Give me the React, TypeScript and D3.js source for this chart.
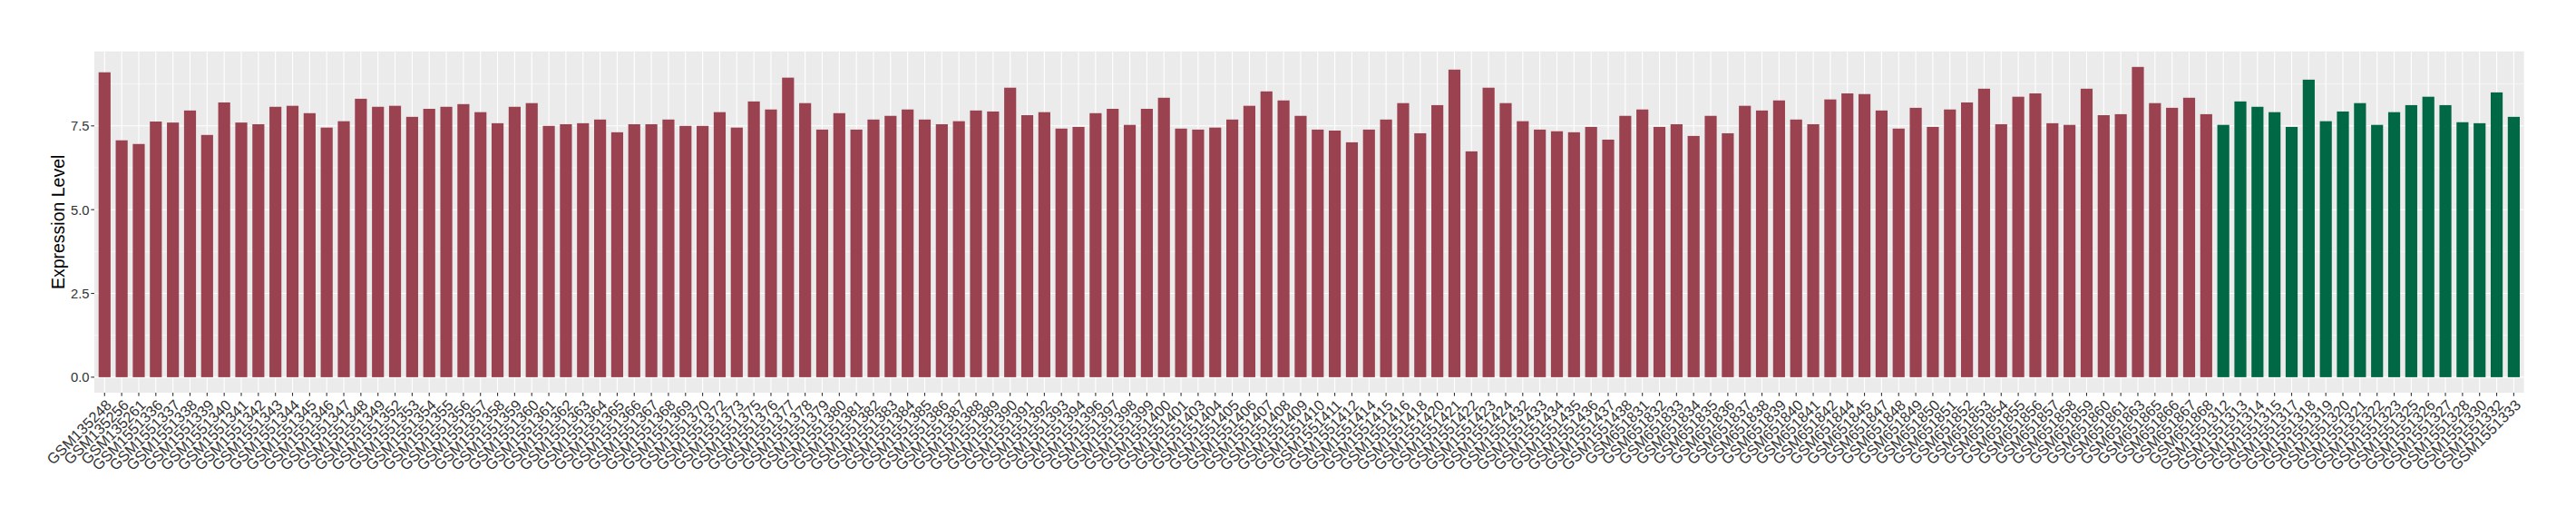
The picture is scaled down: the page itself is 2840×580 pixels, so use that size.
import React from "react";
import * as d3 from "d3";

// ---- data ----
const redSamples = [
  "GSM135248","GSM135256","GSM135261","GSM1551336","GSM1551337","GSM1551338","GSM1551339","GSM1551340",
  "GSM1551341","GSM1551342","GSM1551343","GSM1551344","GSM1551345","GSM1551346","GSM1551347","GSM1551348",
  "GSM1551349","GSM1551352","GSM1551353","GSM1551354","GSM1551355","GSM1551356","GSM1551357","GSM1551358",
  "GSM1551359","GSM1551360","GSM1551361","GSM1551362","GSM1551363","GSM1551364","GSM1551365","GSM1551366",
  "GSM1551367","GSM1551368","GSM1551369","GSM1551370","GSM1551372","GSM1551373","GSM1551375","GSM1551376",
  "GSM1551377","GSM1551378","GSM1551379","GSM1551380","GSM1551381","GSM1551382","GSM1551383","GSM1551384",
  "GSM1551385","GSM1551386","GSM1551387","GSM1551388","GSM1551389","GSM1551390","GSM1551391","GSM1551392",
  "GSM1551393","GSM1551394","GSM1551396","GSM1551397","GSM1551398","GSM1551399","GSM1551400","GSM1551401",
  "GSM1551403","GSM1551404","GSM1551405","GSM1551406","GSM1551407","GSM1551408","GSM1551409","GSM1551410",
  "GSM1551411","GSM1551412","GSM1551414","GSM1551415","GSM1551416","GSM1551418","GSM1551420","GSM1551421",
  "GSM1551422","GSM1551423","GSM1551424","GSM1551432","GSM1551433","GSM1551434","GSM1551435","GSM1551436",
  "GSM1551437","GSM1551438","GSM651831","GSM651832","GSM651833","GSM651834","GSM651835","GSM651836",
  "GSM651837","GSM651838","GSM651839","GSM651840","GSM651841","GSM651842","GSM651844","GSM651845",
  "GSM651847","GSM651848","GSM651849","GSM651850","GSM651851","GSM651852","GSM651853","GSM651854",
  "GSM651855","GSM651856","GSM651857","GSM651858","GSM651859","GSM651860","GSM651861","GSM651863",
  "GSM651865","GSM651866","GSM651867","GSM651868"
];
const redValues = [
  9.10,7.07,6.96,7.63,7.60,7.96,7.23,8.20,7.60,7.55,8.07,8.10,7.88,7.45,7.64,8.31,
  8.07,8.10,7.77,8.01,8.07,8.15,7.91,7.58,8.07,8.18,7.50,7.55,7.58,7.69,7.31,7.55,
  7.55,7.69,7.50,7.50,7.91,7.45,8.23,7.99,8.94,8.18,7.39,7.88,7.39,7.69,7.80,7.99,
  7.69,7.55,7.64,7.96,7.93,8.64,7.82,7.91,7.42,7.47,7.88,8.01,7.53,8.01,8.34,7.42,
  7.39,7.45,7.69,8.10,8.53,8.26,7.80,7.39,7.36,7.01,7.39,7.69,8.18,7.28,8.12,9.18,
  6.74,8.64,8.18,7.64,7.39,7.34,7.31,7.47,7.09,7.80,7.99,7.47,7.55,7.20,7.80,7.28,
  8.10,7.96,8.26,7.69,7.55,8.29,8.47,8.45,7.96,7.42,8.04,7.47,7.99,8.20,8.61,7.55,
  8.37,8.47,7.58,7.53,8.61,7.82,7.85,9.26,8.18,8.04,8.34,7.85
];
const greenSamples = [
  "GSM1551312","GSM1551313","GSM1551314","GSM1551315","GSM1551317","GSM1551318","GSM1551319","GSM1551320",
  "GSM1551321","GSM1551322","GSM1551323","GSM1551325","GSM1551326","GSM1551327","GSM1551328","GSM1551330",
  "GSM1551332","GSM1551333"
];
const greenValues = [
  7.53,8.23,8.07,7.91,7.47,8.88,7.64,7.93,8.18,7.53,7.91,8.12,8.37,8.12,7.61,7.58,8.50,7.77
];
const yTicks = [0, 2.5, 5.0, 7.5];
const yMinorTicks = [1.25, 3.75, 6.25, 8.75];
const yTitle = "Expression Level";

const RED = "#9b4251";
const GREEN = "#006845";

export default function App() {
  const W = 2840, H = 580;
  const left = 104, right = 2782.7, top = 56.7, bottom = 433;
  const samples = [...redSamples, ...greenSamples];
  const rows = samples.map((s, i) => ({
    s,
    v: i < redSamples.length ? redValues[i] : greenValues[i - redSamples.length],
    c: i < redSamples.length ? RED : GREEN,
  }));
  const maxV = d3.max(rows, (d) => d.v) as number;
  const x = d3.scaleBand<string>().domain(samples).range([left, right]).paddingInner(0.3).paddingOuter(0.25);
  const y = d3.scaleLinear().domain([-0.05 * maxV, maxV * 1.05]).range([bottom, top]);
  const bw = x.bandwidth();
  const font = "'Liberation Sans', Arial, Helvetica, sans-serif";

  return (
    <svg width={W} height={H} style={{ position: "absolute", left: 0, top: 0, background: "#fff" }} fontFamily={font}>
      <rect x={0} y={0} width={W} height={H} fill="#fff" />
      <rect x={left} y={top} width={right - left} height={bottom - top} fill="#ebebeb" />
      {yMinorTicks.map((t) => (
        <line key={"mn" + t} x1={left} x2={right} y1={y(t)} y2={y(t)} stroke="#fff" strokeWidth={0.55} />
      ))}
      {yTicks.map((t) => (
        <line key={"mj" + t} x1={left} x2={right} y1={y(t)} y2={y(t)} stroke="#fff" strokeWidth={1.1} />
      ))}
      {samples.map((s) => {
        const cx = (x(s) as number) + bw / 2;
        return <line key={"vg" + s} x1={cx} x2={cx} y1={top} y2={bottom} stroke="#fff" strokeWidth={1.1} />;
      })}
      {rows.map((d) => (
        <rect key={"b" + d.s} x={x(d.s)} y={y(d.v)} width={bw} height={y(0) - y(d.v)} fill={d.c} />
      ))}
      {/* y axis */}
      {yTicks.map((t) => (
        <g key={"yt" + t}>
          <line x1={left - 3.7} x2={left} y1={y(t)} y2={y(t)} stroke="#333" strokeWidth={1.1} />
          <text x={left - 5.5} y={y(t)} dy="0.36em" textAnchor="end" fontSize={14.8} fill="#333">
            {d3.format(".1f")(t)}
          </text>
        </g>
      ))}
      <text
        transform={`translate(${64},${(top + bottom) / 2}) rotate(-90)`}
        textAnchor="middle"
        dy="0.36em"
        fontSize={19.5}
        fill="#000"
      >
        {yTitle}
      </text>
      {/* x axis */}
      {samples.map((s) => {
        const cx = (x(s) as number) + bw / 2;
        return (
          <g key={"xt" + s}>
            <line x1={cx} x2={cx} y1={bottom} y2={bottom + 3.7} stroke="#333" strokeWidth={1.1} />
            <text
              transform={`translate(${cx},${bottom + 6}) rotate(-45)`}
              textAnchor="end"
              dy="0.75em"
              fontSize={16.5}
              fill="#333"
            >
              {s}
            </text>
          </g>
        );
      })}
    </svg>
  );
}
